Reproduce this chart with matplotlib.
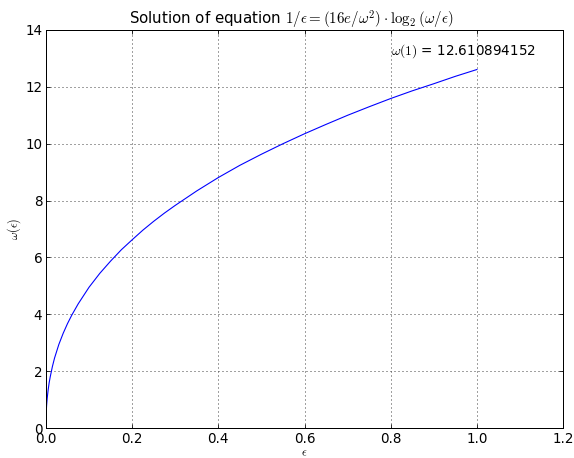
import matplotlib
matplotlib.use("Agg")
import matplotlib.pyplot as plt

# values
eps = [0.001, 0.0015, 0.002, 0.003, 0.005, 0.0075, 0.01, 0.015, 0.02, 0.03,
       0.04, 0.05, 0.06, 0.075, 0.1, 0.125, 0.15, 0.175, 0.2, 0.225,
       0.25, 0.275, 0.3, 0.35, 0.4, 0.45, 0.5, 0.55, 0.6, 0.65,
       0.7, 0.75, 0.8, 0.85, 0.9, 0.95, 1.0]
omega = [0.63, 0.77, 0.87, 1.05, 1.32, 1.59, 1.80, 2.16, 2.46, 2.94,
         3.33, 3.67, 3.97, 4.37, 4.95, 5.44, 5.87, 6.27, 6.62, 6.96,
         7.27, 7.56, 7.83, 8.34, 8.81, 9.24, 9.63, 10.00, 10.35, 10.68,
         11.00, 11.30, 11.59, 11.86, 12.11, 12.37, 12.61]
omega_1 = 12.610894152

plt.rcParams['mathtext.fontset'] = 'cm'
plt.rcParams['font.family'] = 'DejaVu Sans'

fig = plt.figure(figsize=(574 / 72, 458 / 72), dpi=72)
ax = fig.add_axes([0.080, 0.0655, 0.901, 0.869])

ax.plot(eps, omega, color='blue', linewidth=1.1)
ax.text(0.8, 13.12, r'$\omega(1)$ = %.9f' % omega_1, fontsize=13.5)

ax.set_xlim(0, 1.2)
ax.set_ylim(0, 14)
ax.set_xticks([0.0, 0.2, 0.4, 0.6, 0.8, 1.0, 1.2])
ax.set_yticks(range(0, 15, 2))
ax.grid(True, color='#444444', linestyle=(0, (1, 3)), linewidth=1)
ax.tick_params(direction='in', length=4, top=True, right=True, labelsize=13.5)
for s in ax.spines.values():
    s.set_linewidth(1)

ax.set_xlabel(r'$\epsilon$', fontsize=12, labelpad=1)
ax.set_ylabel(r'$\omega(\epsilon)$', fontsize=12, labelpad=2)
ax.set_title(r'Solution of equation $1/\epsilon = (16e/\omega^2)\cdot\log_2(\omega/\epsilon)$',
             fontsize=15, pad=5, x=0.474)

fig.savefig('out.png', dpi=72)
